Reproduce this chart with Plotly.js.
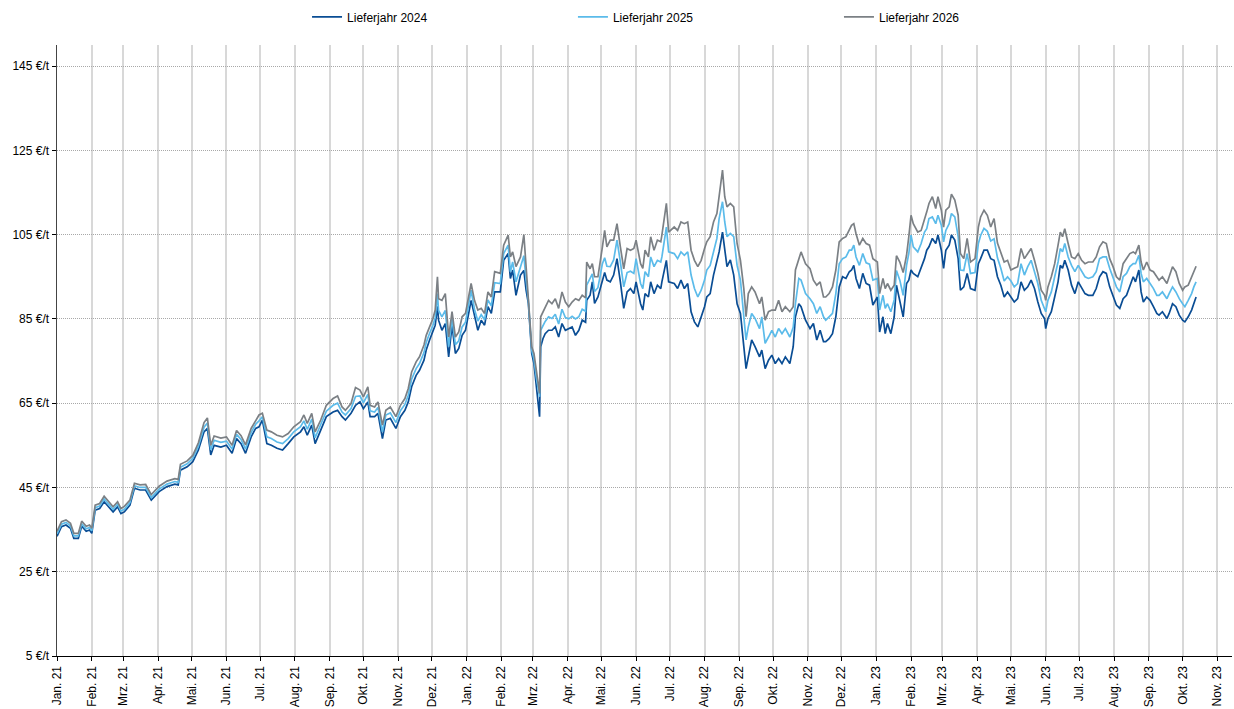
<!DOCTYPE html>
<html>
<head>
<meta charset="utf-8">
<script src="https://cdn.plot.ly/plotly-3.0.1.min.js"></script>
<style>
  html, body { margin: 0; padding: 0; background: #fff; }
  #chart { width: 1234px; height: 709px; }
</style>
</head>
<body>
<div id="chart"></div>
<script>
// ---- Data ----
const seriesNames = ['Lieferjahr 2024', 'Lieferjahr 2025', 'Lieferjahr 2026'];

const dates = [
  '2021-01-01','2021-01-05','2021-01-09','2021-01-13','2021-01-16','2021-01-20','2021-01-23','2021-01-27','2021-01-30',
  '2021-02-01','2021-02-04','2021-02-08','2021-02-12','2021-02-16','2021-02-20','2021-02-24','2021-02-27',
  '2021-03-02','2021-03-07','2021-03-11','2021-03-16','2021-03-21','2021-03-26',
  '2021-04-02','2021-04-09','2021-04-16','2021-04-19','2021-04-21','2021-04-27',
  '2021-05-02','2021-05-07','2021-05-12','2021-05-15','2021-05-18','2021-05-21','2021-05-27',
  '2021-06-01','2021-06-06','2021-06-10','2021-06-14','2021-06-18','2021-06-23','2021-06-27','2021-06-30',
  '2021-07-03','2021-07-07','2021-07-11','2021-07-16','2021-07-21','2021-07-26','2021-07-31',
  '2021-08-06','2021-08-09','2021-08-12','2021-08-16','2021-08-19','2021-08-24','2021-08-29',
  '2021-09-04','2021-09-08','2021-09-12','2021-09-15','2021-09-20','2021-09-24','2021-09-28',
  '2021-10-01','2021-10-05','2021-10-07','2021-10-11','2021-10-14','2021-10-18','2021-10-21','2021-10-25','2021-10-30',
  '2021-11-03','2021-11-07','2021-11-10','2021-11-13','2021-11-17','2021-11-20','2021-11-24','2021-11-26','2021-11-29',
  '2021-12-02','2021-12-04','2021-12-06','2021-12-07','2021-12-10','2021-12-13','2021-12-16','2021-12-19','2021-12-22','2021-12-25','2021-12-28','2021-12-31',
  '2022-01-05','2022-01-08','2022-01-11','2022-01-14','2022-01-17','2022-01-20','2022-01-23','2022-01-26','2022-01-31',
  '2022-02-03','2022-02-05','2022-02-07','2022-02-09','2022-02-11','2022-02-14','2022-02-18','2022-02-21','2022-02-23','2022-02-25','2022-02-28',
  '2022-03-02','2022-03-04','2022-03-07','2022-03-08','2022-03-10','2022-03-12','2022-03-15','2022-03-18','2022-03-21','2022-03-24','2022-03-27','2022-03-30',
  '2022-04-02','2022-04-05','2022-04-08','2022-04-11','2022-04-14','2022-04-17','2022-04-18','2022-04-21','2022-04-23','2022-04-25','2022-04-28',
  '2022-05-02','2022-05-04','2022-05-06','2022-05-09','2022-05-12','2022-05-15','2022-05-18','2022-05-21','2022-05-24','2022-05-27','2022-05-30',
  '2022-06-01','2022-06-05','2022-06-07','2022-06-09','2022-06-12','2022-06-14','2022-06-17','2022-06-20','2022-06-23','2022-06-24','2022-06-28','2022-06-30',
  '2022-07-05','2022-07-08','2022-07-11','2022-07-14','2022-07-17','2022-07-20','2022-07-23','2022-07-26','2022-07-29',
  '2022-08-01','2022-08-03','2022-08-06','2022-08-09','2022-08-12','2022-08-14','2022-08-17','2022-08-19','2022-08-21','2022-08-24','2022-08-27','2022-08-30',
  '2022-09-02','2022-09-05','2022-09-07','2022-09-09','2022-09-12','2022-09-15','2022-09-19','2022-09-21','2022-09-24','2022-09-27','2022-09-30',
  '2022-10-03','2022-10-06','2022-10-09','2022-10-12','2022-10-16','2022-10-19','2022-10-21','2022-10-24','2022-10-26','2022-10-30',
  '2022-11-03','2022-11-06','2022-11-09','2022-11-12','2022-11-15','2022-11-17','2022-11-20','2022-11-23','2022-11-26','2022-11-29',
  '2022-12-02','2022-12-05','2022-12-08','2022-12-10','2022-12-12','2022-12-14','2022-12-17','2022-12-20','2022-12-23','2022-12-26','2022-12-29',
  '2023-01-02','2023-01-04','2023-01-07','2023-01-09','2023-01-11','2023-01-14','2023-01-17','2023-01-19','2023-01-22','2023-01-25','2023-01-28','2023-01-30',
  '2023-02-01','2023-02-03','2023-02-07','2023-02-10','2023-02-13','2023-02-15','2023-02-17','2023-02-20','2023-02-23','2023-02-25','2023-02-28',
  '2023-03-02','2023-03-04','2023-03-07','2023-03-09','2023-03-12','2023-03-15','2023-03-17','2023-03-20','2023-03-23','2023-03-26','2023-03-30',
  '2023-04-02','2023-04-04','2023-04-07','2023-04-10','2023-04-13','2023-04-16','2023-04-19','2023-04-22','2023-04-25','2023-04-28',
  '2023-05-01','2023-05-04','2023-05-07','2023-05-10','2023-05-13','2023-05-16','2023-05-19','2023-05-22','2023-05-25','2023-05-28','2023-05-31',
  '2023-06-01','2023-06-03','2023-06-06','2023-06-09','2023-06-12','2023-06-14','2023-06-16','2023-06-18','2023-06-21','2023-06-24','2023-06-27','2023-06-30',
  '2023-07-03','2023-07-06','2023-07-09','2023-07-13','2023-07-16','2023-07-19','2023-07-22','2023-07-25','2023-07-28','2023-07-31',
  '2023-08-03','2023-08-06','2023-08-09','2023-08-12','2023-08-15','2023-08-18','2023-08-20','2023-08-23','2023-08-25','2023-08-27','2023-08-30',
  '2023-09-02','2023-09-05','2023-09-08','2023-09-10','2023-09-13','2023-09-17','2023-09-19','2023-09-22','2023-09-25','2023-09-28',
  '2023-10-01','2023-10-03','2023-10-06','2023-10-09','2023-10-11','2023-10-13'
];

const lieferjahr2024 = [
  33.4,35.7,36.1,35.3,32.9,32.9,35.8,34.6,34.9,
  34.1,39.6,40.0,41.6,40.4,39.2,40.4,38.8,
  39.2,40.8,44.8,44.4,44.4,42.0,
  44.0,45.2,45.8,45.6,49.1,49.9,
  51.1,53.9,58.2,59.0,52.7,55.0,54.6,
  55.0,53.1,56.6,55.4,53.1,57.0,59.0,59.4,
  61.0,55.4,55.0,54.3,53.9,55.4,57.0,
  58.2,59.4,57.4,59.8,55.4,58.6,61.8,
  62.9,63.3,61.8,61.0,62.6,64.5,65.3,
  63.7,65.3,61.8,61.8,62.6,56.6,61.0,61.4,59.0,
  61.8,63.3,65.3,68.9,71.6,72.8,75.2,77.6,80.0,
  81.9,83.5,88.0,84.7,82.3,83.9,76.0,83.5,76.8,78.0,81.1,82.3,
  89.4,85.5,82.3,84.7,83.5,87.9,86.3,91.4,91.4,
  98.9,99.7,100.5,94.6,96.6,90.6,95.4,96.5,91.8,88.7,76.8,
  74.4,68.9,61.8,78.4,80.3,81.5,82.3,82.3,83.1,80.7,83.9,82.3,
  82.7,83.1,81.1,82.3,84.7,84.2,89.4,90.6,93.8,88.7,90.2,
  94.2,96.0,94.2,93.8,95.4,99.3,93.8,87.5,91.4,92.2,91.0,
  93.8,88.6,87.1,91.0,90.2,93.8,91.0,93.0,92.2,93.8,98.9,93.8,
  93.4,92.2,94.2,92.2,93.4,86.7,84.3,83.1,85.5,
  87.9,90.2,91.0,95.4,98.5,100.9,105.6,102.1,97.4,99.0,95.4,88.6,
  86.3,78.4,73.2,76.0,80.0,78.4,76.0,77.6,73.2,75.2,76.4,
  74.4,75.6,74.4,76.0,74.4,78.4,85.5,88.6,87.9,84.7,
  82.7,83.9,80.0,82.3,79.6,79.6,80.3,81.5,85.5,92.6,
  95.0,94.6,96.2,96.6,97.7,94.6,92.2,95.8,93.4,93.0,88.3,
  90.2,81.9,85.5,81.5,83.9,81.5,85.5,93.0,89.4,85.5,93.4,94.2,
  96.6,95.8,95.0,97.0,99.3,101.3,102.1,104.1,102.9,104.9,101.3,
  97.0,101.3,102.5,104.9,103.7,99.3,91.8,92.6,95.8,92.2,91.8,
  98.1,99.3,101.3,101.3,99.3,98.9,95.0,93.0,90.2,91.4,
  90.2,89.0,89.8,93.8,91.8,92.6,94.2,92.2,89.0,86.3,85.1,
  82.7,85.1,86.7,90.2,93.8,97.7,97.0,98.9,96.6,93.0,91.0,93.8,
  92.2,91.0,90.6,90.6,92.2,95.0,96.2,95.8,92.6,90.2,
  88.3,87.5,89.8,90.6,92.6,95.0,93.8,96.6,91.4,89.0,90.2,
  89.4,87.9,86.3,85.9,86.7,85.1,86.3,88.6,87.9,85.9,
  84.7,84.3,85.5,87.1,88.6,90.2
];

const lieferjahr2025 = [
  34.0,36.3,36.7,35.9,33.5,33.5,36.4,35.2,35.5,
  34.7,40.2,40.6,42.3,41.0,39.8,41.0,39.4,
  39.8,41.4,45.4,45.0,45.0,42.6,
  44.6,45.8,46.4,46.2,49.8,50.6,
  51.9,54.8,59.3,60.3,53.9,56.2,55.7,
  56.0,54.1,57.6,56.4,54.1,58.0,60.0,60.8,
  61.8,57.0,56.6,55.8,55.4,56.6,58.2,
  59.4,60.8,58.8,61.2,56.8,59.8,63.1,
  64.5,65.0,62.9,62.2,63.7,66.6,66.7,
  65.1,67.1,63.2,62.9,64.0,58.2,62.2,62.7,60.4,
  63.2,64.7,66.9,70.7,73.2,74.4,77.0,79.4,81.6,
  83.5,85.3,91.0,87.0,85.5,87.0,78.4,85.0,78.9,79.8,83.1,84.2,
  91.8,87.3,84.5,86.0,84.8,89.5,88.1,93.6,93.4,
  100.5,101.5,102.5,96.2,98.5,93.8,97.4,100.0,94.3,89.4,77.6,
  75.5,71.3,66.5,82.3,83.5,84.4,85.5,85.1,86.1,83.8,87.3,85.3,
  85.0,85.6,85.0,85.5,87.3,86.8,93.0,94.6,95.7,91.5,92.4,
  98.1,99.5,97.5,97.4,99.0,103.7,98.5,92.6,96.0,96.3,95.8,
  99.3,93.4,92.2,96.2,95.0,99.7,97.4,98.9,98.5,99.7,106.8,100.9,
  100.5,99.3,100.9,100.1,100.9,95.4,92.2,90.2,91.8,
  94.2,96.6,97.7,101.3,104.1,108.8,112.8,108.0,104.5,105.3,104.5,97.7,
  94.2,85.5,80.0,83.1,86.3,85.1,82.7,85.5,79.2,80.7,82.3,
  80.7,82.7,81.5,82.7,80.7,83.0,88.6,94.6,94.2,91.0,
  89.8,88.6,86.3,87.9,85.5,84.7,85.5,86.3,91.0,98.1,
  99.3,99.7,101.3,101.3,102.5,99.7,97.7,100.5,98.3,98.0,94.2,
  94.6,87.1,90.6,87.5,88.6,86.7,89.5,96.5,94.2,90.6,97.7,100.5,
  104.9,102.1,100.9,102.9,105.6,106.4,108.8,109.2,107.6,109.6,107.2,
  103.3,106.0,107.6,110.0,109.2,104.5,96.6,96.5,100.5,95.8,96.0,
  102.9,104.8,106.5,105.8,103.5,104.0,99.5,97.0,94.0,95.0,
  94.0,92.6,93.4,98.1,95.4,97.4,98.9,96.2,93.4,89.4,87.5,
  86.7,89.4,91.4,95.0,98.5,101.7,100.9,102.9,99.7,97.7,96.2,97.7,
  96.2,95.0,94.6,95.0,96.2,99.3,99.7,99.7,97.0,94.6,
  92.6,91.4,95.0,95.8,97.4,98.1,98.1,100.1,95.8,93.8,94.6,
  93.4,92.2,90.6,90.6,91.4,89.8,91.0,92.6,91.4,89.8,
  88.6,87.9,89.4,91.0,92.6,93.8
];

const lieferjahr2026 = [
  34.6,36.9,37.3,36.5,34.1,34.1,37.0,35.8,36.1,
  35.3,40.8,41.2,42.9,41.6,40.4,41.6,40.0,
  40.5,42.0,46.0,45.6,45.7,43.3,
  45.3,46.5,47.1,46.9,50.5,51.3,
  52.6,55.6,60.4,61.5,55.0,57.2,56.7,
  57.0,55.0,58.5,57.3,55.1,59.0,61.0,62.2,
  62.6,58.6,58.2,57.4,57.0,57.8,59.4,
  60.6,62.2,60.2,62.6,58.2,61.0,64.5,
  66.1,66.7,64.1,63.3,64.9,68.7,68.1,
  66.5,68.9,64.5,64.1,65.3,59.8,63.3,64.1,61.8,
  64.5,66.1,68.5,72.4,74.8,76.0,78.8,81.1,83.1,
  85.1,87.1,95.0,89.8,89.4,91.0,80.7,86.7,80.7,81.9,85.5,86.3,
  93.4,89.4,87.1,87.5,86.3,91.4,90.2,96.2,95.8,
  102.5,103.7,104.9,99.7,100.9,97.4,99.7,105.0,97.4,90.2,78.4,
  76.8,72.8,67.3,85.5,86.7,87.9,89.4,88.6,89.8,87.5,91.4,89.0,
  87.9,89.0,89.8,89.4,90.6,90.0,98.5,96.9,98.1,95.0,95.0,
  102.1,106.0,102.1,103.7,103.7,107.6,102.1,96.9,101.7,101.3,101.7,
  103.7,98.1,97.0,101.3,99.7,104.5,101.3,103.7,103.3,104.9,112.4,105.6,
  106.8,106.0,108.0,107.6,108.0,101.3,98.9,97.4,98.9,
  101.7,103.3,104.5,108.0,110.0,114.7,120.3,114.0,111.6,112.4,111.6,102.9,
  98.9,92.2,85.5,91.0,92.6,91.4,88.6,90.2,84.7,86.7,87.1,
  87.1,89.4,86.7,87.9,86.7,87.9,96.6,99.3,100.9,98.1,
  96.9,94.2,93.0,93.8,90.2,90.2,91.0,92.6,96.6,103.3,
  104.1,104.5,106.0,107.2,107.6,105.2,102.5,104.1,102.9,102.5,99.3,
  98.5,91.0,94.6,92.2,93.4,91.8,93.0,100.0,98.5,96.0,100.1,104.5,
  109.6,107.6,105.6,106.0,108.4,110.4,112.4,114.0,111.2,114.0,110.8,
  106.8,110.8,111.6,114.6,113.2,109.6,100.5,99.3,104.1,98.5,99.3,
  106.8,109.2,110.8,109.6,106.8,108.8,103.0,100.5,98.5,98.9,
  96.6,97.0,97.4,101.7,99.3,100.5,101.7,98.9,95.8,91.8,90.6,
  89.4,92.6,95.0,98.1,102.5,105.6,104.5,106.4,102.9,99.7,99.3,100.5,
  98.9,98.1,98.5,98.5,99.7,102.1,103.3,102.9,99.3,97.4,
  95.0,94.2,98.1,99.3,100.5,100.9,100.5,102.5,98.5,96.6,98.5,
  96.6,96.2,95.0,94.2,95.0,93.4,95.0,97.4,96.2,93.4,
  91.8,92.6,93.0,95.0,96.6,97.5
];

// Axis labels
const monthAbbr = ['Jan.','Feb.','Mrz.','Apr.','Mai.','Jun.','Jul.','Aug.','Sep.','Okt.','Nov.','Dez.'];
const tickYears = [2021, 2022, 2023];
const lastTickMonthIn2023 = 11; // Nov. 23
const yTickValues = [5, 25, 45, 65, 85, 105, 125, 145];
const yUnit = '€/t';

// ---- Build ticks ----
const xTickVals = [], xTickText = [];
tickYears.forEach(function (yr) {
  for (let m = 0; m < 12; m++) {
    if (yr === 2023 && m + 1 > lastTickMonthIn2023) break;
    const mm = String(m + 1).padStart(2, '0');
    xTickVals.push(yr + '-' + mm + '-01');
    xTickText.push(monthAbbr[m] + ' ' + String(yr).slice(2));
  }
});
const yTickText = yTickValues.map(function (v) { return v + ' ' + yUnit; });

const colors = ['#0a4d94', '#5bbbea', '#7b8085'];
const seriesValues = [lieferjahr2024, lieferjahr2025, lieferjahr2026];
const legendIds = ['legend', 'legend2', 'legend3'];
const legendX = [0.2128, 0.4391, 0.6655];

const traces = seriesValues.map(function (vals, i) {
  return {
    type: 'scatter',
    mode: 'lines',
    x: dates,
    y: vals,
    name: seriesNames[i],
    legend: legendIds[i],
    line: { color: colors[i], width: 1.7 }
  };
});

const fontFamily = '"Liberation Sans", Arial, sans-serif';

function legendBox(x) {
  return {
    orientation: 'h',
    x: x,
    xanchor: 'left',
    y: 1.046,
    yanchor: 'middle',
    font: { family: fontFamily, size: 12, color: '#000000' },
    bgcolor: 'rgba(0,0,0,0)',
    borderwidth: 0
  };
}

const layout = {
  width: 1234,
  height: 709,
  margin: { l: 57, r: 2, t: 45, b: 53, autoexpand: false },
  paper_bgcolor: '#ffffff',
  plot_bgcolor: '#ffffff',
  font: { family: fontFamily, size: 12, color: '#000000' },
  showlegend: true,
  legend: legendBox(legendX[0]),
  legend2: legendBox(legendX[1]),
  legend3: legendBox(legendX[2]),
  xaxis: {
    type: 'date',
    range: ['2021-01-01', '2023-11-14'],
    tickmode: 'array',
    tickvals: xTickVals,
    ticktext: xTickText,
    tickangle: -90,
    tickfont: { family: fontFamily, size: 12, color: '#000000' },
    ticks: 'outside',
    ticklen: 4,
    tickcolor: '#000000',
    showgrid: true,
    gridcolor: '#d8d8d8',
    gridwidth: 2,
    showline: true,
    linecolor: '#000000',
    linewidth: 1.2,
    zeroline: false,
    fixedrange: true
  },
  yaxis: {
    range: [5, 150],
    tickmode: 'array',
    tickvals: yTickValues,
    ticktext: yTickText,
    tickfont: { family: fontFamily, size: 12, color: '#000000' },
    ticks: 'outside',
    ticklen: 4,
    tickcolor: '#000000',
    showgrid: true,
    gridcolor: '#a8a8a8',
    gridwidth: 1,
    griddash: '1px,1px',
    showline: true,
    linecolor: '#444444',
    linewidth: 1.5,
    zeroline: false,
    fixedrange: true
  }
};

Plotly.newPlot('chart', traces, layout, { displayModeBar: false, staticPlot: true });
</script>
</body>
</html>
